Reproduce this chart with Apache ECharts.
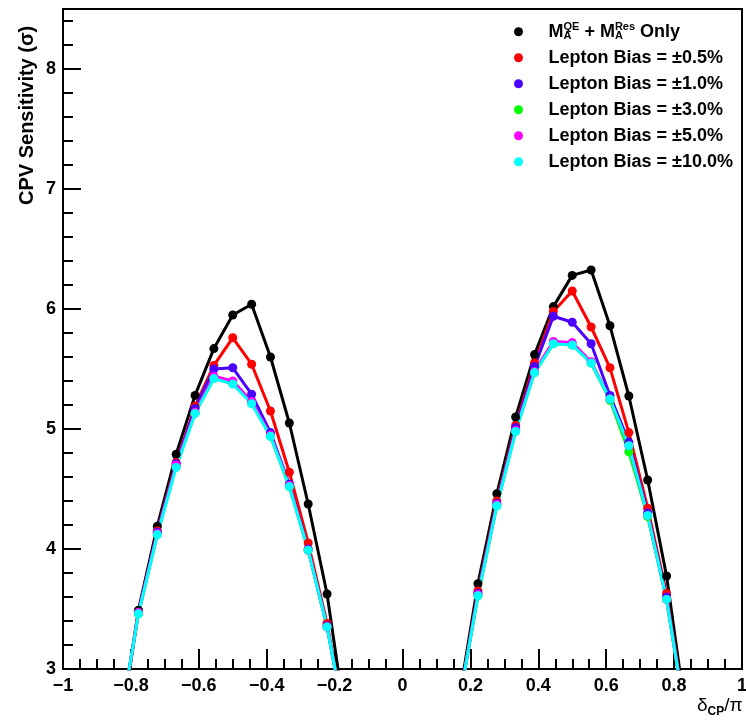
<!DOCTYPE html>
<html><head><meta charset="utf-8">
<script src="https://cdn.jsdelivr.net/npm/echarts@6/dist/echarts.min.js"></script>
<style>html,body{margin:0;padding:0;background:#fff}#c{width:746px;height:722px}</style>
</head><body><div id="c"></div>
<script>
// delta_CP / pi sample points (10 degree steps)
const deltaCP = [-1.0000, -0.9444, -0.8889, -0.8333, -0.7778, -0.7222, -0.6667, -0.6111, -0.5556, -0.5000, -0.4444, -0.3889, -0.3333, -0.2778, -0.2222, -0.1667, -0.1111, -0.0556, 0, 0.0556, 0.1111, 0.1667, 0.2222, 0.2778, 0.3333, 0.3889, 0.4444, 0.5000, 0.5556, 0.6111, 0.6667, 0.7222, 0.7778, 0.8333, 0.8889, 0.9444, 1.0000];

const seriesNames = ['MA Only', 'Lepton Bias = \u00b10.5%', 'Lepton Bias = \u00b11.0%', 'Lepton Bias = \u00b13.0%', 'Lepton Bias = \u00b15.0%', 'Lepton Bias = \u00b110.0%'];
const seriesColors = ['#000000', '#ff0000', '#4b00ff', '#00ff00', '#ff00ff', '#00ffff'];

const maOnly = [0, 0.85, 1.65, 2.45, 3.49, 4.19, 4.79, 5.28, 5.67, 5.95, 6.04, 5.60, 5.05, 4.375, 3.625, 2.55, 1.7, 0.85, 0, 0.85, 1.85, 2.75, 3.71, 4.46, 5.10, 5.62, 6.02, 6.28, 6.325, 5.86, 5.275, 4.575, 3.775, 2.65, 1.75, 0.85, 0];
const bias05 = [0, 0.85, 1.65, 2.45, 3.47, 4.15, 4.72, 5.19, 5.53, 5.76, 5.54, 5.15, 4.64, 4.05, 3.38, 2.50, 1.65, 0.85, 0, 0.85, 1.75, 2.72, 3.65, 4.40, 5.03, 5.55, 5.98, 6.15, 5.85, 5.51, 4.97, 4.34, 3.63, 2.62, 1.7, 0.85, 0];
const bias10 = [0, 0.85, 1.65, 2.50, 3.47, 4.14, 4.71, 5.17, 5.50, 5.51, 5.29, 4.97, 4.54, 4.00, 3.36, 2.52, 1.65, 0.85, 0, 0.85, 1.75, 2.72, 3.63, 4.38, 5.01, 5.52, 5.94, 5.89, 5.71, 5.28, 4.89, 4.30, 3.60, 2.60, 1.7, 0.85, 0];
const bias30 = [0, 0.85, 1.65, 2.52, 3.46, 4.12, 4.69, 5.13, 5.42, 5.38, 5.22, 4.94, 4.52, 3.99, 3.35, 2.52, 1.65, 0.85, 0, 0.85, 1.75, 2.72, 3.61, 4.36, 4.98, 5.47, 5.71, 5.70, 5.55, 5.24, 4.81, 4.27, 3.58, 2.60, 1.7, 0.85, 0];
const bias50 = [0, 0.85, 1.65, 2.52, 3.47, 4.13, 4.70, 5.14, 5.44, 5.40, 5.23, 4.95, 4.53, 3.99, 3.35, 2.52, 1.65, 0.85, 0, 0.85, 1.75, 2.72, 3.62, 4.37, 4.99, 5.48, 5.73, 5.72, 5.56, 5.25, 4.86, 4.28, 3.58, 2.60, 1.7, 0.85, 0];
const bias100 = [0, 0.85, 1.65, 2.52, 3.46, 4.12, 4.68, 5.13, 5.42, 5.375, 5.21, 4.94, 4.52, 3.99, 3.35, 2.52, 1.65, 0.85, 0, 0.85, 1.75, 2.72, 3.61, 4.36, 4.98, 5.47, 5.71, 5.70, 5.55, 5.25, 4.86, 4.28, 3.58, 2.60, 1.7, 0.85, 0];

const allValues = [maOnly, bias05, bias10, bias30, bias50, bias100];

const FONT = '"Liberation Sans", Arial, Helvetica, sans-serif';

const chart = echarts.init(document.getElementById('c'), null, {renderer: 'canvas'});

const series = allValues.map((vals, i) => ({
  name: seriesNames[i],
  type: 'line',
  data: deltaCP.map((x, j) => [x, vals[j]]),
  symbol: 'circle',
  symbolSize: 9,
  showSymbol: true,
  clip: true,
  color: seriesColors[i],
  lineStyle: {width: 3, color: seriesColors[i]},
  itemStyle: {color: seriesColors[i]},
  emphasis: {disabled: true},
  animation: false
}));

const fmtNum = v => {
  const s = String(parseFloat(v.toFixed(1)));
  return s.replace('-', '\u2212');
};

chart.setOption({
  animation: false,
  backgroundColor: '#ffffff',
  grid: {left: 63, right: 4, top: 9, bottom: 53, containLabel: false, outerBoundsMode: 'none',
    show: true, borderColor: '#000', borderWidth: 2, backgroundColor: 'transparent'},
  xAxis: {
    type: 'value', min: -1, max: 1, interval: 0.2,
    name: '{d|\u03b4}{s|CP}{d|/\u03c0}',
    nameLocation: 'end', nameGap: -45,
    nameTextStyle: {padding: [74, 0, 0, 0], rich: {
      d: {fontSize: 19, fontFamily: FONT, color: '#000', lineHeight: 24},
      s: {fontSize: 12, fontWeight: 'bold', fontFamily: FONT, color: '#000', verticalAlign: 'bottom', lineHeight: 12}
    }},
    axisLine: {show: true, onZero: false, lineStyle: {color: '#000', width: 2}},
    axisTick: {show: true, inside: true, length: 20, lineStyle: {color: '#000', width: 2}},
    minorTick: {show: true, splitNumber: 4, length: 10, lineStyle: {color: '#000', width: 2}},
    splitLine: {show: false},
    axisLabel: {show: true, margin: 8, fontSize: 18, fontWeight: 'bold', fontFamily: FONT, color: '#000', formatter: fmtNum, showMinLabel: true, showMaxLabel: true}
  },
  yAxis: {
    type: 'value', min: 3, max: 8.5, interval: 1,
    name: 'CPV Sensitivity (\u03c3)',
    nameLocation: 'end', nameRotate: 90, nameGap: -196,
    nameTextStyle: {fontSize: 20, fontWeight: 'bold', fontFamily: FONT, color: '#000',
      align: 'left', verticalAlign: 'bottom', padding: [0, 0, 26, 0]},
    axisLine: {show: true, onZero: false, lineStyle: {color: '#000', width: 2}},
    axisTick: {show: true, inside: true, length: 18, lineStyle: {color: '#000', width: 2}},
    minorTick: {show: true, splitNumber: 5, length: 10, lineStyle: {color: '#000', width: 2}},
    splitLine: {show: false},
    axisLabel: {show: true, margin: 7, fontSize: 18, fontWeight: 'bold', fontFamily: FONT, color: '#000',
      formatter: v => (Math.abs(v - Math.round(v)) < 1e-6 ? String(Math.round(v)) : '')}
  },
  legend: {
    show: true, orient: 'vertical', left: 514, top: 21.7, padding: 0, itemGap: 6,
    itemWidth: 50, itemHeight: 9, icon: 'circle',
    data: seriesNames,
    selectedMode: false,
    textStyle: {fontSize: 18, fontWeight: 'bold', fontFamily: FONT, color: '#000', lineHeight: 20,
      rich: {
        m: {fontSize: 18, fontWeight: 'bold', fontFamily: FONT, color: '#000', lineHeight: 20},
        sp: {fontSize: 11, fontWeight: 'bold', fontFamily: FONT, color: '#000', verticalAlign: 'top', lineHeight: 10},
        sb: {fontSize: 11, fontWeight: 'bold', fontFamily: FONT, color: '#000', verticalAlign: 'bottom', lineHeight: 10, width: 0}
      }},
    formatter: name => name === seriesNames[0]
      ? '{m|M}{sb|A}{sp|QE}{m| + M}{sb|A}{sp|Res}{m| Only}'
      : name
  },
  series: series
});
</script>
</body></html>
